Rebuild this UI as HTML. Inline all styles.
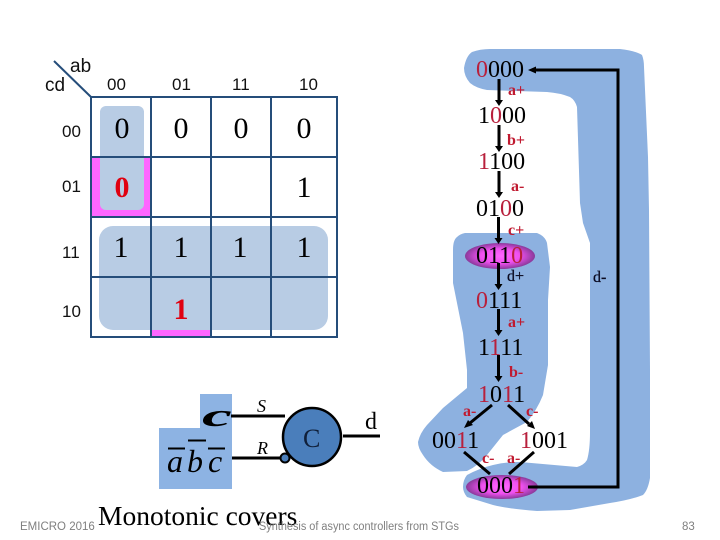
<!DOCTYPE html>
<html>
<head>
<meta charset="utf-8">
<style>
html,body{margin:0;padding:0;background:#fff;width:720px;height:540px;overflow:hidden}
svg{display:block}
.s{font-family:"Liberation Serif",serif}
.a{font-family:"Liberation Sans",sans-serif}
.km{font-size:17px;fill:#111}
.v{font-size:30px;text-anchor:middle;fill:#000}
.r{font-weight:bold;fill:#e00010}
.n{font-size:24px;fill:#000}
.n tspan.h{fill:#b8203c}
.l{font-size:16px;fill:#c01a30;font-weight:bold}
.k{fill:#0a0a20;font-weight:normal;stroke:#0a0a20;stroke-width:.3px}
.f{fill:#7f7f7f;font-size:11.5px}
</style>
</head>
<body>
<svg width="720" height="540" viewBox="0 0 720 540" xmlns="http://www.w3.org/2000/svg">
<defs>
<radialGradient id="g" cx="50%" cy="50%" r="50%">
<stop offset="0%" stop-color="#ff66ff"/>
<stop offset="55%" stop-color="#f050f0"/>
<stop offset="100%" stop-color="#8a3a9a"/>
</radialGradient>
</defs>

<!-- K-map fills -->
<rect x="91" y="157" width="60" height="60" fill="#ff66ff"/>
<rect x="100" y="106" width="44" height="104" rx="6" fill="#b8cce4"/>
<rect x="99" y="226" width="229" height="104" rx="14" fill="#b8cce4"/>
<rect x="152" y="330" width="58" height="6" fill="#ff66ff"/>
<!-- K-map grid -->
<g stroke="#254d7a" stroke-width="2" fill="none">
<rect x="91" y="97" width="246" height="240"/>
<path d="M151 97V337M211 97V337M271 97V337M91 157H337M91 217H337M91 277H337"/>
<path d="M54 61L91 97"/>
</g>
<!-- K-map labels -->
<g class="a km">
<text x="70" y="72" style="font-size:19px">ab</text>
<text x="45" y="91" style="font-size:19px">cd</text>
<text x="107" y="90">00</text><text x="172" y="90">01</text><text x="232" y="90">11</text><text x="299" y="90">10</text>
<text x="62" y="137">00</text><text x="62" y="192">01</text><text x="62" y="258">11</text><text x="62" y="317">10</text>
</g>
<g class="s v">
<text x="122" y="138">0</text><text x="181" y="138">0</text><text x="241" y="138">0</text><text x="304" y="138">0</text>
<text x="122" y="197" class="r">0</text><text x="304" y="197">1</text>
<text x="121" y="257">1</text><text x="181" y="257">1</text><text x="240" y="257">1</text><text x="304" y="257">1</text>
<text x="181" y="319" class="r">1</text>
</g>

<!-- Blue covers -->
<path fill="#8db1e0" d="M464 68 Q466 56 472 52 Q480 49 490 49 L620 49 Q636 51 642 55 Q644 60 644 67 L648 157 L649 210 L650 370 L650 478 Q648 490 643 495 Q630 500 610 503 L570 510 L537 511 Q510 509 493 505 L467 497 Q463 492 463 487 Q463 480 467 475 Q480 468 493 465 Q505 462 520 462 L577 467 Q584 465 587 460 Q590 450 590 432 L590 243 L583 223 L580 203 L577 107 Q575 100 570 97 Q560 93 547 92 L487 90 Q476 88 470 83 Q464 76 464 68 Z"/>
<path fill="#8db1e0" d="M465 233 L537 233 Q545 236 547 243 L550 267 L548 300 L548 365 L543 395 Q537 410 527 422 Q512 430 503 435 Q495 445 487 455 Q478 466 467 471 L443 472 Q430 466 423 455 Q418 448 418 442 Q420 433 427 425 L443 408 L467 388 L467 370 L463 333 L453 283 L453 250 Q453 240 457 237 Q460 234 465 233 Z"/>

<!-- Ellipses -->
<ellipse cx="500" cy="256" rx="35" ry="13" fill="url(#g)"/>
<ellipse cx="502" cy="487" rx="36" ry="12" fill="url(#g)"/>

<!-- Arrows -->
<g stroke="#000" stroke-width="3" fill="none">
<path d="M499 79V100M499 125V146M499 171V192M498.500 217V238M498.500 263V284M498.500 309V330M498.500 355V376"/>
<path d="M492 405L470 423M508 405L529 424M464 452L490 474M534 452L509 474"/>
<path d="M528 487H618V70H534"/>
</g>
<g fill="#000">
<path d="M495 100H503L499 106ZM495 146H503L499 152ZM495 192H503L499 198ZM494.500 238H502.500L498.500 244ZM494.500 284H502.500L498.500 290ZM494.500 330H502.500L498.500 336ZM494.500 376H502.500L498.500 382Z"/>
<path d="M473 425L468 420L464 428ZM527 426L532 421L535 429Z"/>
<path d="M536 66.500V73.500L528 70Z"/>
</g>

<!-- State codes -->
<g class="s n">
<text x="476" y="77"><tspan class="h">0</tspan>000</text>
<text x="478" y="123">1<tspan class="h">0</tspan>00</text>
<text x="478" y="169"><tspan class="h">1</tspan>100</text>
<text x="476" y="216">01<tspan class="h">0</tspan>0</text>
<text x="476" y="263">011<tspan class="h">0</tspan></text>
<text x="476" y="308"><tspan class="h">0</tspan>111</text>
<text x="478" y="355">1<tspan class="h">1</tspan>11</text>
<text x="478" y="402"><tspan class="h">1</tspan>0<tspan class="h">1</tspan>1</text>
<text x="432" y="448">00<tspan class="h">1</tspan>1</text>
<text x="520" y="448"><tspan class="h">1</tspan>001</text>
<text x="477" y="493">000<tspan class="h">1</tspan></text>
</g>

<!-- Transition labels -->
<g class="s l">
<text x="508" y="95">a+</text>
<text x="507" y="145">b+</text>
<text x="511" y="191">a-</text>
<text x="508" y="235">c+</text>
<text x="507" y="281" class="k">d+</text>
<text x="508" y="327">a+</text>
<text x="509" y="377">b-</text>
<text x="463" y="416">a-</text>
<text x="526" y="416">c-</text>
<text x="482" y="463">c-</text>
<text x="507" y="463">a-</text>
<text x="593" y="282" class="k">d-</text>
</g>

<!-- Circuit -->
<path d="M200 394H232V489H159V428H200Z" fill="#8db3e3"/>
<g stroke="#000" stroke-width="3" fill="none">
<path d="M231 416H285M232 458H281M343 436H380"/>
</g>
<circle cx="312" cy="437" r="29" fill="#4a7ebb" stroke="#000" stroke-width="2.500"/>
<circle cx="285" cy="458" r="4.500" fill="#4a7ebb" stroke="#000" stroke-width="2"/>
<g class="s">
<text x="257" y="412" font-size="18" font-style="italic">S</text>
<text x="257" y="454" font-size="18" font-style="italic">R</text>
<text x="303" y="447" font-size="26" fill="#10203a">C</text>
<text x="365" y="429" font-size="24">d</text>
<text transform="translate(202 426) scale(2.100 1)" font-size="32" font-style="italic" font-weight="bold">c</text>
<text x="167" y="472" font-size="32" font-style="italic">a</text>
<text x="187" y="472" font-size="32" font-style="italic">b</text>
<text x="208" y="472" font-size="32" font-style="italic">c</text>
</g>
<path d="M168 448.500H185M188 440.500H206M208 448.500H225" stroke="#000" stroke-width="2"/>

<!-- Footer -->
<text x="98" y="525" class="s" font-size="27.500">Monotonic covers</text>
<text x="20" y="530" class="a f">EMICRO 2016</text>
<text x="259" y="530" class="a f" textLength="200" lengthAdjust="spacingAndGlyphs">Synthesis of async controllers from STGs</text>
<text x="682" y="530" class="a f">83</text>
</svg>
</body>
</html>
